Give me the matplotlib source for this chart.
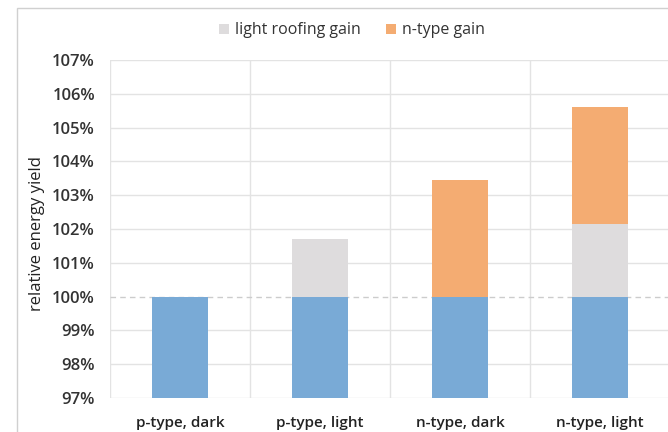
import numpy as np
import matplotlib.pyplot as plt
from matplotlib.patches import Rectangle

plt.rcParams['font.family'] = ['Open Sans', 'DejaVu Sans']

# dados
categorias = ['p-type, dark', 'p-type, light', 'n-type, dark', 'n-type, light']
base = [100.0, 100.0, 100.0, 100.0]
light_gain = [0.0, 1.7, 0.0, 2.15]
ntype_gain = [0.0, 0.0, 3.45, 3.45]
yticks = [97, 98, 99, 100, 101, 102, 103, 104, 105, 106, 107]

azul = '#79aad6'
cinza = '#dedcdd'
laranja = '#f4ac72'

fig = plt.figure(figsize=(6.68, 4.32), dpi=100)
ax = fig.add_axes([0.165, 0.079, 0.838, 0.782])

x = np.arange(len(categorias))
larg = 0.4
y0 = 97
ax.bar(x, np.array(base) - y0, bottom=y0, width=larg, color=azul, zorder=3)
ax.bar(x, light_gain, bottom=base, width=larg, color=cinza, zorder=3, label='light roofing gain')
ax.bar(x, ntype_gain, bottom=np.array(base) + np.array(light_gain), width=larg,
       color=laranja, zorder=3, label='n-type gain')

ax.set_xlim(-0.5, 3.5)
ax.set_ylim(97, 107)
ax.set_yticks(yticks)
ax.set_yticklabels([f'{v}%' for v in yticks], fontsize=12, fontweight='semibold', color='#333333')
ax.set_xticks(x)
ax.set_xticklabels(categorias, fontsize=11, fontweight='semibold', color='#222222')
ax.tick_params(axis='y', length=0, pad=11)
ax.tick_params(axis='x', length=0, pad=13)

# grade
for v in yticks:
    if v == 100:
        ax.axhline(v, color='#cccccc', lw=1, ls=(0, (4, 3)), zorder=2)
    else:
        ax.axhline(v, color='#e3e3e3', lw=1, zorder=1)
for xv in [0.5, 1.5, 2.5]:
    ax.axvline(xv, color='#e3e3e3', lw=1, zorder=1)
for s in ax.spines.values():
    s.set_visible(False)
ax.axvline(-0.5, color='#e3e3e3', lw=1, zorder=1)

fig.text(0.056, 0.46, 'relative energy yield', rotation=90, ha='center', va='center',
         fontsize=12, color='#222222')

leg = fig.legend(loc='center', bbox_to_anchor=(0.527, 0.93), ncol=2, frameon=False,
                 prop={'size': 11.5, 'weight': 'medium'}, handlelength=0.6, handleheight=0.6,
                 columnspacing=1.6, handletextpad=0.4)
for t in leg.get_texts():
    t.set_color('#333333')

# moldura
fig.patches.append(Rectangle((0.025, -0.1), 1.1, 1.082, transform=fig.transFigure,
                             fill=False, edgecolor='#d0d0d0', lw=1))

fig.savefig('out.png', dpi=100)
